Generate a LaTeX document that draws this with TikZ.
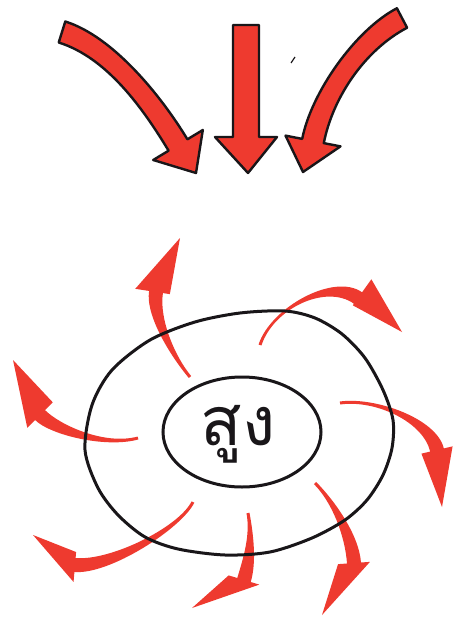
\documentclass[tikz,border=0pt]{standalone}
\usepackage{fontspec}
\newfontfamily\thaifont[Script=Thai]{Loma}
\usetikzlibrary{calc,shapes.geometric}
\definecolor{arrowred}{RGB}{238,58,47}
\definecolor{inkblack}{RGB}{25,22,25}
\tikzset{
  bigarrow/.style={fill=arrowred,draw=inkblack,line width=2.4pt,line join=round},
  smallarrow/.style={fill=arrowred,draw=none},
  ring/.style={draw=inkblack,line width=3pt},
}
\newcommand\swoosh[9]{%
  \path (#1) coordinate (sa) (#2) coordinate (sb) (#3) coordinate (sc) (#4) coordinate (sd) (#5) coordinate (st);
  \path[arrowshape]
    ($(sa)!#6!90:(sb)$) .. controls ($(sb)!#6!-90:(sa)$) and ($(sc)!#7!90:(sd)$) .. ($(sd)!#7!-90:(sc)$)
    -- ($(sd)!#8!-90:(sc)$) -- (st) -- ($(sd)!#9!90:(sc)$)
    -- ($(sd)!#7!90:(sc)$) .. controls ($(sc)!#7!-90:(sd)$) and ($(sb)!#6!90:(sa)$) .. ($(sa)!#6!-90:(sb)$) -- cycle;
}
\begin{document}
\begin{tikzpicture}[x=1pt,y=-1pt]
\useasboundingbox[fill=white] (0,0) rectangle (462,621);
% top arrows
\tikzset{arrowshape/.style=bigarrow}
\swoosh{62,32}{110,47}{152,102}{178,145}{196,173}{11pt}{11pt}{29pt}{29pt}
\swoosh{246,25}{246,60}{246,100}{246,137}{248,173}{13pt}{13pt}{31pt}{31pt}
\swoosh{402,18}{360,40}{322,95}{313,141}{303,172}{11pt}{11pt}{28pt}{28pt}
\draw[line width=1.2pt,inkblack] (291,63) -- (295,57);
% small swirling arrows
\tikzset{arrowshape/.style=smallarrow}
\swoosh{190,377}{174,358}{152,318}{156,292}{180,238}{1.5pt}{7pt}{21pt}{14pt}
\swoosh{260,345}{272,308}{330,278}{358,298}{402,332}{1.5pt}{7pt}{23pt}{9pt}
\swoosh{340,403}{375,398}{430,420}{437,450}{442,507}{1.5pt}{7pt}{16pt}{16pt}
\swoosh{315,483}{333,501}{352,535}{354,563}{322,615}{1.5pt}{7pt}{16pt}{16pt}
\swoosh{248,513}{252,535}{250,560}{244,580}{192,608}{1.5pt}{7pt}{16pt}{16pt}
\swoosh{193,502}{180,528}{110,568}{75,565}{33,535}{1.5pt}{7pt}{17pt}{13pt}
\swoosh{138,438}{105,447}{55,430}{40,415}{13,360}{1.5pt}{7pt}{18pt}{18pt}
% rings
\draw[ring] plot[smooth cycle] coordinates {(85,450) (92,405) (112,370) (150,340) (195,322) (240,313) (285,311) (315,318) (342,334) (365,358) (383,390) (393,420) (392,448) (383,475) (367,500) (345,520) (312,538) (270,552) (225,555) (178,549) (145,537) (118,515) (98,488)};
\node[ring,ellipse,minimum width=158pt,minimum height=110pt,inner sep=0pt] (inner) at (242,432) {};
\node[font=\thaifont\fontsize{68}{72}\selectfont,text=inkblack] (word) at (238,434) {สูง};
\end{tikzpicture}
\end{document}
